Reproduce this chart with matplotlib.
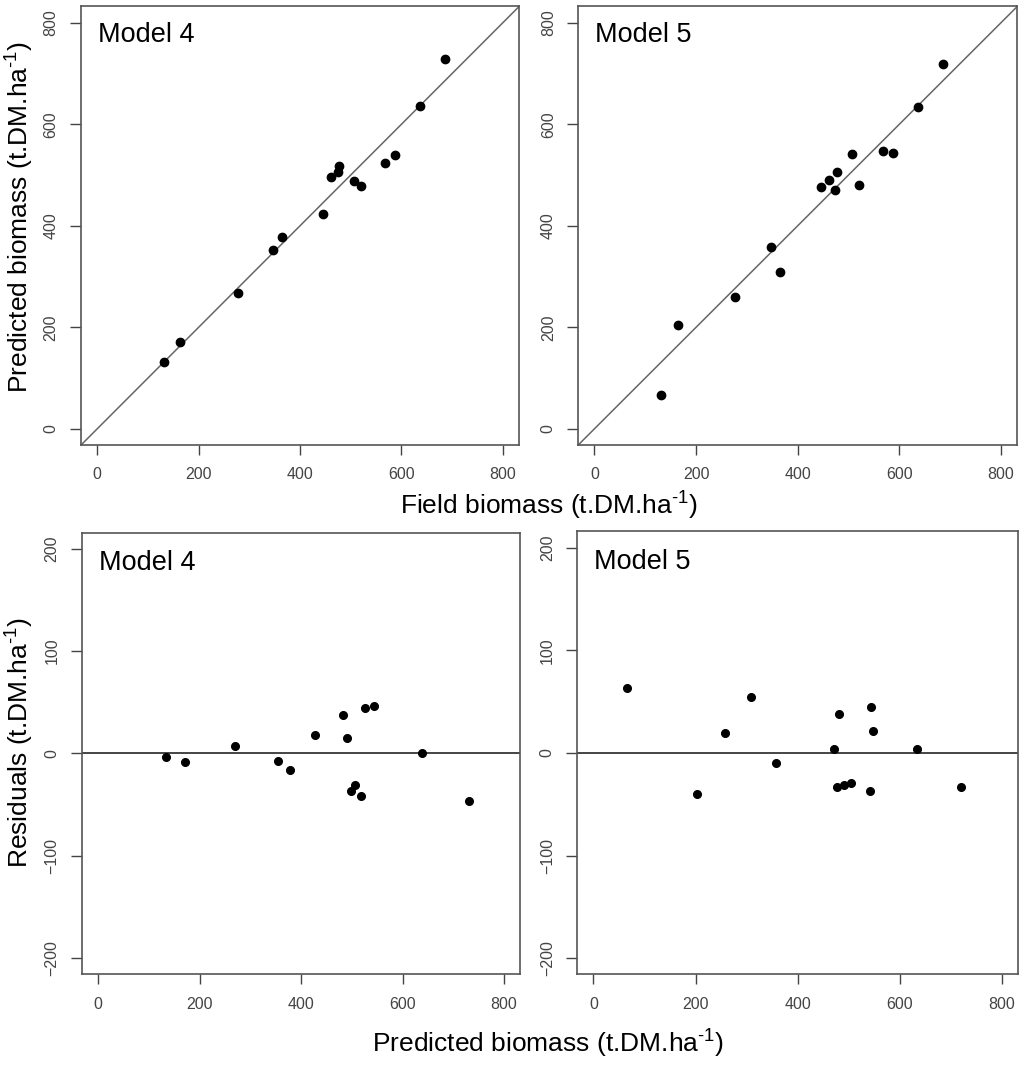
import matplotlib
matplotlib.use("Agg")
import matplotlib.pyplot as plt

plt.rcParams['font.family'] = ['Liberation Sans', 'DejaVu Sans']
plt.rcParams['mathtext.fontset'] = 'custom'
plt.rcParams['mathtext.rm'] = 'Liberation Sans'

# Field biomass (observed), shared by both models
field = [131, 164, 277, 347, 365, 446, 461, 474, 477, 506, 520, 568, 588, 637, 686]

# Predicted biomass, top panels
pred_m4 = [131, 171, 268, 352, 378, 424, 497, 505, 517, 489, 479, 524, 540, 635, 729]
pred_m5 = [67, 204, 259, 358, 309, 477, 491, 471, 505, 541, 481, 547, 543, 633, 719]

# Residuals vs predicted, bottom panels
res_x_m4 = [133, 172, 270, 354, 379, 427, 482, 491, 499, 507, 519, 526, 543, 638, 732]
res_y_m4 = [-3, -8, 7, -7, -16, 18, 38, 15, -37, -31, -42, 44, 46, 0, -46]
res_x_m5 = [66, 203, 258, 309, 357, 471, 477, 481, 491, 505, 541, 544, 548, 633, 720]
res_y_m5 = [63, -40, 19, 55, -10, 4, -33, 38, -31, -29, -37, 45, 21, 4, -33]

bio_ticks = [0, 200, 400, 600, 800]
res_ticks = [-200, -100, 0, 100, 200]
unit = r'(t.DM.ha$^{\text{-1}}$)'

fig = plt.figure(figsize=(10.24, 10.65), dpi=100)

boxes = {
    'tl': [0.079, 0.582, 0.428, 0.412],
    'tr': [0.5645, 0.582, 0.429, 0.412],
    'bl': [0.080, 0.085, 0.428, 0.415],
    'br': [0.5635, 0.085, 0.431, 0.416],
}


def style(ax, yticks):
    for s in ax.spines.values():
        s.set_color('#555555')
        s.set_linewidth(1.2)
    ax.set_xticks(bio_ticks)
    ax.set_yticks(yticks)
    ax.tick_params(axis='x', length=7, width=1, color='#444444',
                   labelsize=11.5, labelcolor='#444444', pad=9)
    ax.tick_params(axis='y', length=8, width=1, color='#444444',
                   labelsize=11.5, labelcolor='#444444', pad=8)
    for lab in ax.get_yticklabels():
        lab.set_rotation(90)
        lab.set_va('center')


# top panels: predicted vs field
for key, pred, name in [('tl', pred_m4, 'Model 4'), ('tr', pred_m5, 'Model 5')]:
    ax = fig.add_axes(boxes[key])
    ax.plot([-32, 832], [-32, 832], color='#666666', lw=1.1)
    ax.plot(field, pred, 'o', color='black', ms=6)
    ax.set_xlim(-32, 832)
    ax.set_ylim(-32, 832)
    style(ax, bio_ticks)
    ax.text(0.038, 0.965, name, transform=ax.transAxes, fontsize=19.5,
            va='top', ha='left')

# bottom panels: residuals
for key, rx, ry, name in [('bl', res_x_m4, res_y_m4, 'Model 4'),
                          ('br', res_x_m5, res_y_m5, 'Model 5')]:
    ax = fig.add_axes(boxes[key])
    ax.axhline(0, color='#444444', lw=1.4)
    ax.plot(rx, ry, 'o', color='black', ms=5.5)
    ax.set_xlim(-32, 832)
    ax.set_ylim(-216, 216)
    style(ax, res_ticks)
    ax.text(0.038, 0.96, name, transform=ax.transAxes, fontsize=19.5,
            va='top', ha='left')

fig.text(0.536, 0.526, 'Field biomass ' + unit, fontsize=19,
         ha='center', va='center')
fig.text(0.535, 0.021, 'Predicted biomass ' + unit, fontsize=19,
         ha='center', va='center')
fig.text(0.018, 0.796, 'Predicted biomass ' + unit, fontsize=19,
         ha='center', va='center', rotation=90)
fig.text(0.018, 0.303, 'Residuals ' + unit, fontsize=19,
         ha='center', va='center', rotation=90)

fig.savefig('out.png', dpi=100)
